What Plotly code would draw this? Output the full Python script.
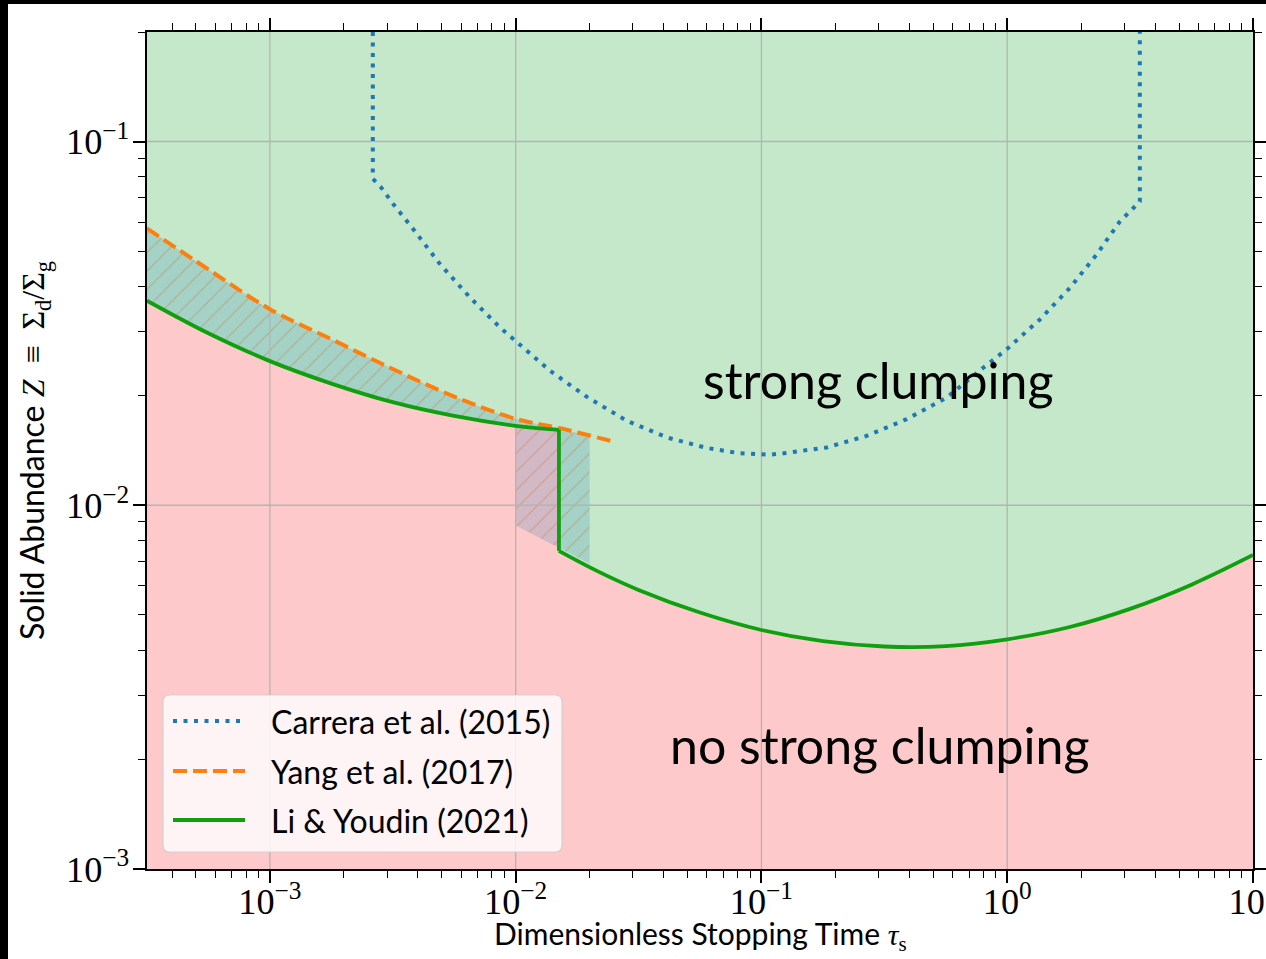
import plotly.graph_objects as go

# ---------------------------------------------------------------- data
# Carrera et al. (2015) boundary
carrera_tau = [0.002623, 0.002623, 0.002818, 0.003192, 0.003849, 0.004943, 0.006544,
               0.008666, 0.01384, 0.0195, 0.02836, 0.04124, 0.05998, 0.0819, 0.1085,
               0.1229, 0.1844, 0.2682, 0.3900, 0.5672, 0.7989, 0.9945, 1.358, 1.798,
               2.309, 2.872, 3.463, 3.463]
carrera_z = [0.2, 0.0790, 0.0752, 0.0670, 0.05718, 0.04585, 0.03715,
             0.03074, 0.02339, 0.01985, 0.01706, 0.01536, 0.01437, 0.01389, 0.01377,
             0.01389, 0.01442, 0.01552, 0.01725, 0.01977, 0.02388, 0.02683, 0.03242, 0.03957,
             0.04886, 0.06026, 0.06838, 0.2]

# Yang et al. (2017) boundary
yang_tau = [3.16e-4, 5.62e-4, 1.0e-3, 1.78e-3, 3.16e-3, 5.62e-3, 1.0e-2, 1.5e-2, 2.5e-2]
yang_z = [0.0577, 0.0445, 0.0346, 0.0286, 0.0237, 0.0199, 0.01728, 0.0163, 0.01497]

# Li & Youdin (2021) boundary: small-grain branch and large-grain branch
ly_tau_small = [3.16e-4, 5.62e-4, 1.0e-3, 1.78e-3, 3.16e-3, 5.62e-3, 1.0e-2, 1.5e-2]
ly_z_small = [0.0365, 0.0297, 0.0249, 0.0216, 0.0192, 0.0176, 0.01653, 0.01612]
ly_tau_large = [1.5e-2, 2.12e-2, 3.16e-2, 5.62e-2, 0.1, 0.178, 0.316, 0.562, 1.0,
                1.78, 3.16, 5.62, 10.0]
ly_z_large = [0.00749, 0.00662, 0.00585, 0.00507, 0.00454, 0.00423, 0.00409, 0.00410,
              0.00428, 0.00462, 0.00519, 0.00605, 0.00730]

# transition band around tau_s ~ 0.01-0.02
band_tau = [0.01, 0.01, 0.02, 0.02]
band_z = [0.0088, 0.0165, 0.0157, 0.0069]

x_decades = [1e-3, 1e-2, 1e-1, 1.0]
y_decades = [1e-2, 1e-1]
x_lim = [10 ** -3.5, 10.0]
y_lim = [1e-3, 0.2]

legend_labels = ["Carrera et al. (2015)", "Yang et al. (2017)", "Li &amp; Youdin (2021)"]

# ---------------------------------------------------------------- style
W, H = 1266, 959
ML, MR, MT, MB = 147, 13, 32, 90
PW, PH = W - ML - MR, H - MT - MB

BLUE = "rgb(31,119,180)"
ORANGE = "rgb(255,127,14)"
GREEN = "rgb(14,160,14)"
GREEN_BG = "rgb(197,232,202)"
PINK_BG = "rgb(254,201,202)"
HATCH_FILL = "rgba(31,119,180,0.2)"
HATCH_LINE = "rgba(205,110,40,0.38)"
GRID = "#b4b4b4"
SANS = "Lato"
SERIF = "Liberation Serif"

BLUE_LINE = dict(color=BLUE, width=4, dash="4px,6.5px")
ORANGE_LINE = dict(color=ORANGE, width=4, dash="14px,6px")
GREEN_LINE = dict(color=GREEN, width=3.8)


def fx(px):
    return (px - ML) / PW


def fy(py):
    return (H - MB - py) / PH


fig = go.Figure()
n_small = len(ly_tau_small)
nofill = dict(width=0)

# no-clumping region below the Li & Youdin curve (two branches)
fig.add_trace(go.Scatter(x=[ly_tau_small[0], ly_tau_small[-1]], y=[y_lim[0], y_lim[0]],
                         mode="lines", line=nofill, hoverinfo="skip"))
fig.add_trace(go.Scatter(x=ly_tau_small, y=ly_z_small, mode="lines",
                         line=dict(width=0, shape="spline"),
                         fill="tonexty", fillcolor=PINK_BG, hoverinfo="skip"))
fig.add_trace(go.Scatter(x=[ly_tau_large[0], ly_tau_large[-1]], y=[y_lim[0], y_lim[0]],
                         mode="lines", line=nofill, hoverinfo="skip"))
fig.add_trace(go.Scatter(x=ly_tau_large, y=ly_z_large, mode="lines",
                         line=dict(width=0, shape="spline"),
                         fill="tonexty", fillcolor=PINK_BG, hoverinfo="skip"))

hatch = dict(shape="/", size=13, solidity=0.09, fgcolor=HATCH_LINE,
             bgcolor=HATCH_FILL, fgopacity=1)

# disagreement between Yang et al. and Li & Youdin
fig.add_trace(go.Scatter(x=ly_tau_small, y=ly_z_small, mode="lines",
                         line=dict(width=0, shape="spline"), hoverinfo="skip"))
fig.add_trace(go.Scatter(x=yang_tau[:n_small], y=yang_z[:n_small], mode="lines",
                         line=dict(width=0, shape="spline"),
                         fill="tonexty", fillcolor=HATCH_FILL, fillpattern=hatch,
                         hoverinfo="skip"))

# transition band
fig.add_trace(go.Scatter(x=band_tau, y=band_z, fill="toself", fillcolor=HATCH_FILL,
                         fillpattern=hatch, mode="lines", line=nofill, hoverinfo="skip"))

# grid lines at the decades, drawn over the shaded regions
for xv in x_decades:
    fig.add_trace(go.Scatter(x=[xv, xv], y=y_lim, mode="lines",
                             line=dict(color=GRID, width=1.3), hoverinfo="skip"))
for yv in y_decades:
    fig.add_trace(go.Scatter(x=x_lim, y=[yv, yv], mode="lines",
                             line=dict(color=GRID, width=1.3), hoverinfo="skip"))

# boundaries
fig.add_trace(go.Scatter(x=carrera_tau, y=carrera_z, mode="lines", line=BLUE_LINE,
                         name=legend_labels[0]))
fig.add_trace(go.Scatter(x=yang_tau, y=yang_z, mode="lines",
                         line=dict(**ORANGE_LINE, shape="spline"), name=legend_labels[1]))
fig.add_trace(go.Scatter(x=ly_tau_small, y=ly_z_small, mode="lines",
                         line=dict(**GREEN_LINE, shape="spline"), name=legend_labels[2]))
fig.add_trace(go.Scatter(x=[ly_tau_small[-1], ly_tau_large[0]],
                         y=[ly_z_small[-1], ly_z_large[0]], mode="lines",
                         line=GREEN_LINE, showlegend=False))
fig.add_trace(go.Scatter(x=ly_tau_large, y=ly_z_large, mode="lines",
                         line=dict(**GREEN_LINE, shape="spline"), showlegend=False))

axis_common = dict(
    type="log", showgrid=False, zeroline=False, automargin=False,
    showline=True, linecolor="black", linewidth=1.8, mirror="ticks",
    ticks="outside", ticklen=12, tickwidth=1.6, tickcolor="black",
    exponentformat="power", dtick=1,
    labelalias={"1": "10<sup>0</sup>", "10": "10<sup>1</sup>"},
    tickfont=dict(family=SERIF, size=29, color="black"),
    minor=dict(ticks="outside", ticklen=7, tickwidth=1.3, tickcolor="black",
               dtick="D1", showgrid=False),
)

MATH = "<span style=\"font-family:Liberation Serif\">"
fig.update_xaxes(**axis_common, range=[-3.5, 1],
                 ticklabelstandoff=-11, ticklabeloverflow="allow")
fig.update_yaxes(
    **axis_common, range=[-3, -0.69897],
    ticklabelstandoff=-2,
    title=dict(text="Solid Abundance " + MATH
                    + "<i>Z</i>  ≡  Σ<sub>d</sub>/Σ<sub>g</sub></span>",
               font=dict(family=SANS, size=32, color="black"), standoff=12),
)

shapes = []
annotations = []

# x-axis title, placed under the tick labels
annotations.append(dict(xref="paper", yref="paper", x=0.5, y=fy(936),
                        text="Dimensionless Stopping Time " + MATH
                             + "<i>τ</i><sub>s</sub></span>",
                        showarrow=False, xanchor="center", yanchor="middle",
                        font=dict(family=SANS, size=30, color="black")))

# legend frame with rounded corners
lx0, lx1, ly0, ly1, r = 163, 562, 695, 852, 7
rx, ry = r / PW, r / PH
path = (f"M {fx(lx0) + rx},{fy(ly0)} L {fx(lx1) - rx},{fy(ly0)} "
        f"Q {fx(lx1)},{fy(ly0)} {fx(lx1)},{fy(ly0) - ry} "
        f"L {fx(lx1)},{fy(ly1) + ry} Q {fx(lx1)},{fy(ly1)} {fx(lx1) - rx},{fy(ly1)} "
        f"L {fx(lx0) + rx},{fy(ly1)} Q {fx(lx0)},{fy(ly1)} {fx(lx0)},{fy(ly1) + ry} "
        f"L {fx(lx0)},{fy(ly0) - ry} Q {fx(lx0)},{fy(ly0)} {fx(lx0) + rx},{fy(ly0)} Z")
shapes.append(dict(type="path", xref="paper", yref="paper", path=path,
                   fillcolor="rgba(255,255,255,0.8)",
                   line=dict(color="rgba(204,204,204,0.8)", width=1.2), layer="above"))

legend_styles = [BLUE_LINE, ORANGE_LINE, GREEN_LINE]
row_y = [721, 771, 820]
for label, style, py in zip(legend_labels, legend_styles, row_y):
    shapes.append(dict(type="line", xref="paper", yref="paper",
                       x0=fx(173), x1=fx(245), y0=fy(py), y1=fy(py),
                       line=style, layer="above"))
    annotations.append(dict(xref="paper", yref="paper", x=fx(269), y=fy(py),
                            text=label, showarrow=False, xanchor="left", yanchor="middle",
                            font=dict(family=SANS, size=32, color="black")))

# region labels
annotations.append(dict(xref="paper", yref="paper", x=fx(878), y=fy(380),
                        text="strong clumping", showarrow=False,
                        xanchor="center", yanchor="middle",
                        font=dict(family=SANS, size=50, color="black")))
annotations.append(dict(xref="paper", yref="paper", x=fx(879), y=fy(745),
                        text="no strong clumping", showarrow=False,
                        xanchor="center", yanchor="middle",
                        font=dict(family=SANS, size=50, color="black")))

# dark frame strips along the top and left edges of the figure
shapes.append(dict(type="rect", xref="paper", yref="paper",
                   x0=fx(0), x1=fx(W), y0=fy(4), y1=fy(0),
                   fillcolor="black", line=dict(width=0), layer="above"))
shapes.append(dict(type="rect", xref="paper", yref="paper",
                   x0=fx(0), x1=fx(8), y0=fy(H), y1=fy(0),
                   fillcolor="black", line=dict(width=0), layer="above"))

fig.update_layout(
    width=W, height=H,
    margin=dict(l=ML, r=MR, t=MT, b=MB, autoexpand=False),
    paper_bgcolor="white", plot_bgcolor=GREEN_BG,
    showlegend=False,
    shapes=shapes, annotations=annotations,
    hovermode=False,
)

fig.write_html("out.html")
